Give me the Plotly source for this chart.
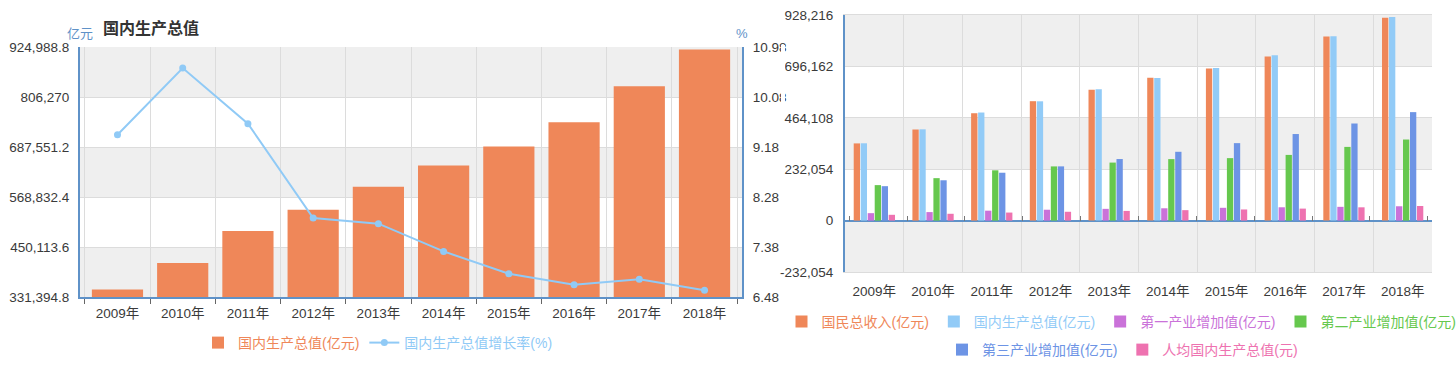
import plotly.graph_objects as go

# ---------------- data ----------------
years = ['2009年', '2010年', '2011年', '2012年', '2013年', '2014年', '2015年', '2016年', '2017年', '2018年']
gdp = [349081.4, 412119.3, 487940.2, 538580.0, 592963.2, 643563.1, 688858.2, 746395.1, 832035.9, 919281.1]
gdp_growth = [9.4, 10.6, 9.6, 7.9, 7.8, 7.3, 6.9, 6.7, 6.8, 6.6]
gni = [348517.7, 411265.2, 484753.2, 539116.5, 590422.4, 644791.1, 686449.6, 741140.4, 830945.7, 915243.5]
primary = [33583.8, 38430.8, 44781.4, 49084.5, 53028.1, 55626.3, 57774.6, 60139.2, 62099.5, 64734.0]
secondary = [160171.7, 191629.8, 227038.8, 244643.3, 261951.6, 277571.8, 282040.3, 296547.7, 332742.7, 366000.9]
tertiary = [155454.9, 182058.6, 216123.6, 244852.2, 277979.1, 310654.0, 349744.7, 390828.1, 438355.9, 489700.8]
per_capita = [26180, 30808, 36302, 39874, 43684, 47173, 50237, 54139, 60014, 66006]

left_ticks = [331394.8, 450113.6, 568832.4, 687551.2, 806270, 924988.8]
left_ticktext = ['331,394.8', '450,113.6', '568,832.4', '687,551.2', '806,270', '924,988.8']
pct_ticks = [6.48, 7.38, 8.28, 9.18, 10.08, 10.98]
pct_ticktext = ['6.48', '7.38', '8.28', '9.18', '10.08', '10.98']
right_ticks = [-232054, 0, 232054, 464108, 696162, 928216]
right_ticktext = ['-232,054', '0', '232,054', '464,108', '696,162', '928,216']

right_series = [
    ('国民总收入(亿元)', gni, '#EF8759'),
    ('国内生产总值(亿元)', gdp, '#92CBF7'),
    ('第一产业增加值(亿元)', primary, '#CA72D9'),
    ('第二产业增加值(亿元)', secondary, '#66C84E'),
    ('第三产业增加值(亿元)', tertiary, '#6D94E5'),
    ('人均国内生产总值(元)', per_capita, '#EE72B0'),
]

# ---------------- style ----------------
W, H = 1456, 380
FONT = 'Liberation Sans, Noto Sans CJK SC, sans-serif'
AXIS_BLUE = '#5F92C8'
GRID = '#DCDCDC'
BAND = '#EFEFEF'
TXT = '#3A3A3A'
ORANGE = '#EF8759'
LBLUE = '#90CAF6'

L_X = [80 / W, 742 / W]
L_Y = [1 - 297 / H, 1 - 47 / H]
R_X = [845 / W, 1432 / W]
R_Y = [1 - 272 / H, 1 - 15 / H]


def span(text, color):
    return '<span style="color:%s">%s</span>' % (color, text)


fig = go.Figure()

# left chart
fig.add_trace(go.Bar(
    x=years, y=gdp, name=span('国内生产总值(亿元)', ORANGE),
    marker=dict(color=ORANGE, line=dict(width=0)), width=0.785,
    xaxis='x', yaxis='y', legend='legend'))
fig.add_trace(go.Scatter(
    x=years, y=gdp_growth, name=span('国内生产总值增长率(%)', LBLUE),
    mode='lines+markers', line=dict(color=LBLUE, width=2),
    marker=dict(color=LBLUE, size=7), xaxis='x', yaxis='y2', legend='legend'))

# right chart
for i, (nm, vals, col) in enumerate(right_series):
    fig.add_trace(go.Bar(
        x=years, y=vals, name=span(nm, col), marker=dict(color=col, line=dict(width=0)),
        xaxis='x2', yaxis='y3', legend='legend2' if i < 4 else 'legend3'))

# invisible helper trace for the zero-line tick axis
fig.add_trace(go.Scatter(x=years, y=per_capita, mode='markers', marker=dict(opacity=0),
                         showlegend=False, hoverinfo='skip', xaxis='x3', yaxis='y3'))

# background bands
shapes = []
for i in range(len(left_ticks) - 1):
    if i % 2 == 0:
        shapes.append(dict(type='rect', xref='x domain', yref='y', x0=0, x1=1,
                           y0=left_ticks[i], y1=left_ticks[i + 1], fillcolor=BAND,
                           line=dict(width=0), layer='below'))
for i in range(len(right_ticks) - 1):
    if i % 2 == 0:
        shapes.append(dict(type='rect', xref='x2 domain', yref='y3', x0=0, x1=1,
                           y0=right_ticks[i], y1=right_ticks[i + 1], fillcolor=BAND,
                           line=dict(width=0), layer='below'))
# clip of the left chart's right labels (as in the picture)
shapes.append(dict(type='rect', xref='paper', yref='paper', x0=781 / W, x1=785 / W,
                   y0=1 - 110 / H, y1=1 - 45 / H, fillcolor='white', line=dict(width=0),
                   layer='above'))

zero_pos = R_Y[0] + (0 - right_ticks[0]) / (right_ticks[-1] - right_ticks[0]) * (R_Y[1] - R_Y[0])

tickfont = dict(family=FONT, size=13.5, color=TXT)

fig.update_layout(
    width=W, height=H, autosize=False,
    margin=dict(l=0, r=0, t=0, b=0, autoexpand=False),
    paper_bgcolor='white', plot_bgcolor='white',
    font=dict(family=FONT, size=13.5, color=TXT),
    barmode='group', bargap=0.285, bargroupgap=0.1,
    shapes=shapes,
    title=dict(text='<b>国内生产总值</b>', x=103 / W, xanchor='left', y=1 - 28 / H,
               yanchor='middle', font=dict(family=FONT, size=16, color='#333333')),
    xaxis=dict(domain=L_X, anchor='y', type='category', categoryorder='array',
               categoryarray=years, tickson='boundaries', ticks='outside', ticklen=5,
               tickcolor='#666666', showline=True, linecolor=AXIS_BLUE, linewidth=2,
               showgrid=True, gridcolor=GRID, gridwidth=1, tickfont=tickfont,
               ticklabelstandoff=3, fixedrange=True),
    yaxis=dict(domain=L_Y, anchor='x', range=[left_ticks[0], left_ticks[-1]],
               tickvals=left_ticks, ticktext=left_ticktext, showline=True,
               linecolor=AXIS_BLUE, linewidth=2, showgrid=True, gridcolor=GRID,
               zeroline=False, ticks='', tickfont=tickfont, ticklabelstandoff=6),
    yaxis2=dict(overlaying='y', side='right', anchor='x', range=[pct_ticks[0], pct_ticks[-1]],
                tickvals=pct_ticks, ticktext=pct_ticktext, showline=True,
                linecolor=AXIS_BLUE, linewidth=2, showgrid=False, zeroline=False,
                ticks='', tickfont=tickfont, ticklabelstandoff=6),
    xaxis2=dict(domain=R_X, anchor='y3', type='category', categoryorder='array',
                categoryarray=years, tickson='boundaries', ticks='', showline=True,
                mirror=True, linecolor=GRID, linewidth=1, showgrid=True, gridcolor=GRID,
                tickfont=tickfont, ticklabelstandoff=7),
    yaxis3=dict(domain=R_Y, anchor='x2', range=[right_ticks[0], right_ticks[-1]],
                tickvals=right_ticks, ticktext=right_ticktext, showline=True,
                linecolor=AXIS_BLUE, linewidth=2, showgrid=True, gridcolor=GRID,
                zeroline=True, zerolinecolor=AXIS_BLUE, zerolinewidth=2, ticks='',
                tickfont=tickfont, ticklabelstandoff=7),
    xaxis3=dict(overlaying='x2', anchor='free', position=zero_pos, type='category',
                categoryorder='array', categoryarray=years, tickson='boundaries',
                ticks='inside', ticklen=5, tickcolor='#777777', showticklabels=False,
                showgrid=False, showline=False, zeroline=False),
    legend=dict(orientation='h', x=378 / W, xanchor='center', y=1 - 343 / H,
                yanchor='middle', font=dict(family=FONT, size=14),
                bgcolor='rgba(0,0,0,0)', itemclick=False, itemdoubleclick=False),
    legend2=dict(orientation='h', x=1121.5 / W, xanchor='center', y=1 - 322 / H,
                 yanchor='middle', font=dict(family=FONT, size=14),
                 bgcolor='rgba(0,0,0,0)', itemclick=False, itemdoubleclick=False),
    legend3=dict(orientation='h', x=1122.5 / W, xanchor='center', y=1 - 350 / H,
                 yanchor='middle', font=dict(family=FONT, size=14),
                 bgcolor='rgba(0,0,0,0)', itemclick=False, itemdoubleclick=False),
    annotations=[
        dict(text='亿元', xref='paper', yref='paper', x=80 / W, y=1 - 33 / H,
             xanchor='center', yanchor='middle', showarrow=False,
             font=dict(family=FONT, size=13, color=AXIS_BLUE)),
        dict(text='%', xref='paper', yref='paper', x=742 / W, y=1 - 33 / H,
             xanchor='center', yanchor='middle', showarrow=False,
             font=dict(family=FONT, size=13, color=AXIS_BLUE)),
    ],
)

fig.write_html('out.html', config={'displayModeBar': False},
               post_script="document.body.style.margin='0px';document.body.style.overflow='hidden';")
